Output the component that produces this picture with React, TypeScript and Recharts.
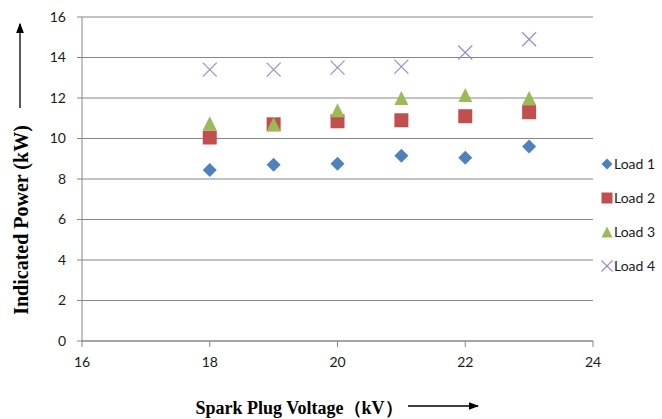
import React from 'react';
import { ScatterChart, Scatter, XAxis, YAxis, CartesianGrid } from 'recharts';

const VOLTAGES = [18, 19, 20, 21, 22, 23];
const LOAD_1 = [8.45, 8.7, 8.75, 9.15, 9.05, 9.6];
const LOAD_2 = [10.05, 10.7, 10.85, 10.9, 11.1, 11.3];
const LOAD_3 = [10.75, 10.7, 11.4, 12.0, 12.15, 12.0];
const LOAD_4 = [13.4, 13.4, 13.5, 13.55, 14.25, 14.9];
const SERIES_NAMES = ['Load 1', 'Load 2', 'Load 3', 'Load 4'];
const X_TICKS = [16, 18, 20, 22, 24];
const Y_TICKS = [0, 2, 4, 6, 8, 10, 12, 14, 16];

const W = 662;
const H = 419;
const AXIS = '#868686';
const TEXT = '#1a1a1a';
const TICK_FONT = 'Lato, "Open Sans", sans-serif';
const TITLE_FONT = '"Liberation Serif", "Times New Roman", serif';

type Kind = 'diamond' | 'square' | 'triangle' | 'cross';

const COLORS: Record<Kind, string> = {
  diamond: '#4F81BD',
  square: '#C0504D',
  triangle: '#9BBB59',
  cross: '#A08CC8',
};

const KINDS: Kind[] = ['diamond', 'square', 'triangle', 'cross'];

function Marker({ kind, cx, cy, r = 7 }: { kind: Kind; cx: number; cy: number; r?: number }) {
  const c = COLORS[kind];
  if (kind === 'diamond') {
    return <polygon points={`${cx},${cy - r} ${cx + r},${cy} ${cx},${cy + r} ${cx - r},${cy}`} fill={c} />;
  }
  if (kind === 'square') {
    return <rect x={cx - r} y={cy - r} width={r * 2} height={r * 2} fill={c} />;
  }
  if (kind === 'triangle') {
    return <polygon points={`${cx},${cy - r} ${cx + r},${cy + r} ${cx - r},${cy + r}`} fill={c} />;
  }
  return (
    <g stroke={c} strokeWidth={1.3}>
      <line x1={cx - r} y1={cy - r} x2={cx + r} y2={cy + r} />
      <line x1={cx - r} y1={cy + r} x2={cx + r} y2={cy - r} />
    </g>
  );
}

const toPoints = (vals: number[]) => VOLTAGES.map((x, i) => ({ x, y: vals[i] }));
const SERIES = [LOAD_1, LOAD_2, LOAD_3, LOAD_4].map(toPoints);

export default function App() {
  return (
    <div style={{ position: 'absolute', left: 0, top: 0, width: W, height: H, background: '#fff' }}>
      <ScatterChart width={W} height={H} margin={{ top: 17, right: 69, bottom: 48, left: 0 }}>
        <CartesianGrid vertical={false} stroke={AXIS} strokeWidth={1} />
        <XAxis
          type="number"
          dataKey="x"
          domain={[16, 24]}
          ticks={X_TICKS}
          height={30}
          tickSize={6}
          tickMargin={10}
          axisLine={{ stroke: AXIS }}
          tickLine={{ stroke: AXIS }}
          tick={{ fill: TEXT, fontSize: 14, fontFamily: TICK_FONT }}
        />
        <YAxis
          type="number"
          dataKey="y"
          domain={[0, 16]}
          ticks={Y_TICKS}
          width={82}
          tickSize={5}
          tickMargin={11}
          axisLine={{ stroke: AXIS }}
          tickLine={{ stroke: AXIS }}
          tick={{ fill: TEXT, fontSize: 14, fontFamily: TICK_FONT }}
        />
        {SERIES.map((data, i) => (
          <Scatter
            key={SERIES_NAMES[i]}
            name={SERIES_NAMES[i]}
            data={data}
            isAnimationActive={false}
            shape={(p: any) => <Marker kind={KINDS[i]} cx={p.cx} cy={p.cy} />}
          />
        ))}
      </ScatterChart>

      {/* axis titles with arrows */}
      <svg width={W} height={H} style={{ position: 'absolute', left: 0, top: 0, pointerEvents: 'none' }}>
        <defs>
          <marker id="arr" markerWidth="8" markerHeight="6" refX="7" refY="3" orient="auto">
            <path d="M0,0 L8,3 L0,6 Z" fill="#000" />
          </marker>
        </defs>
        <text
          transform="translate(28,220) rotate(-90)"
          textAnchor="middle"
          fontFamily={TITLE_FONT}
          fontWeight="bold"
          fontSize={20}
          fill="#000"
        >
          Indicated Power (kW)
        </text>
        <line x1={20} y1={108} x2={20} y2={24} stroke="#000" strokeWidth={1.3} markerEnd="url(#arr)" />
        <text
          x={299}
          y={414}
          textAnchor="middle"
          fontFamily={TITLE_FONT}
          fontWeight="bold"
          fontSize={18}
          fill="#000"
        >
          Spark Plug Voltage（kV）
        </text>
        <line x1={408} y1={406} x2={478} y2={406} stroke="#000" strokeWidth={1.3} markerEnd="url(#arr)" />
      </svg>

      {/* legend */}
      <div style={{ position: 'absolute', left: 600, top: 147 }}>
        {SERIES_NAMES.map((name, i) => (
          <div key={name} style={{ display: 'flex', alignItems: 'center', height: 34 }}>
            <svg width={13} height={20} style={{ flex: 'none' }}>
              <Marker kind={KINDS[i]} cx={7} cy={10} r={5.5} />
            </svg>
            <span style={{ fontFamily: TICK_FONT, fontSize: 14, color: TEXT, marginLeft: 1, lineHeight: '20px' }}>
              {name}
            </span>
          </div>
        ))}
      </div>
    </div>
  );
}
